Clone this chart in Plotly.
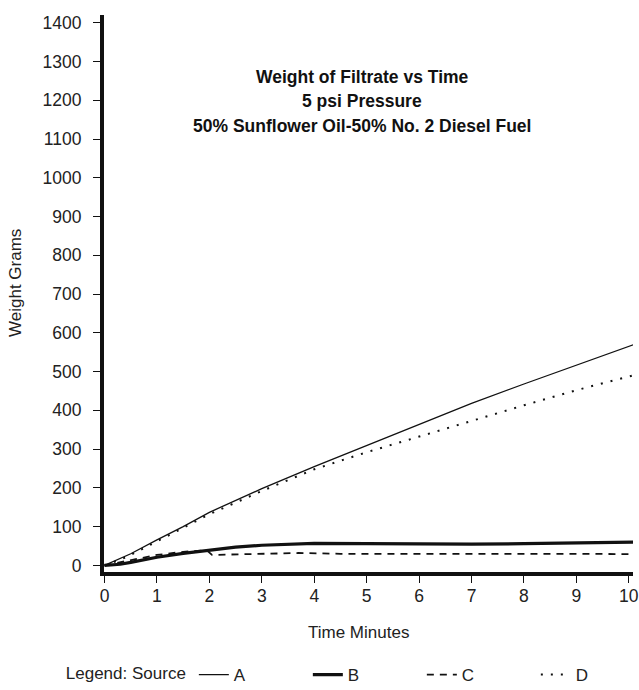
import plotly.graph_objects as go

# ---- data ----
time_A = [0, 0.25, 0.5, 1, 1.5, 2, 3, 4, 5, 6, 7, 8, 9, 10, 10.1]
weight_A = [0, 14, 30, 66, 100, 137, 198, 255, 310, 365, 418, 468, 516, 564, 570]

time_B = [0, 0.3, 0.5, 1, 1.5, 2, 2.5, 3, 3.5, 4, 5, 6, 7, 8, 9, 10, 10.1]
weight_B = [0, 3, 8, 21, 31, 40, 47, 52, 55, 57, 56, 55, 55, 56, 57, 58, 60]

time_C = [0, 0.3, 0.5, 1, 1.5, 1.95, 2.05, 3, 3.7, 4.5, 5, 6, 7, 8, 9, 10, 10.1]
weight_C = [0, 8, 14, 27, 35, 39, 27, 29, 32, 30, 30, 30, 31, 30, 30, 29, 28]

time_D = [0, 0.25, 0.5, 1, 1.5, 2, 3, 4, 5, 6, 7, 8, 9, 10, 10.1]
weight_D = [0, 12, 27, 62, 97, 132, 192, 248, 292, 333, 373, 413, 452, 487, 491]

x_ticks = list(range(0, 11))
y_ticks = list(range(0, 1500, 100))

title_lines = ["Weight of Filtrate vs Time", "5 psi Pressure",
               "50% Sunflower Oil-50% No. 2 Diesel Fuel"]

FONT = "Liberation Sans, Arial, Helvetica, sans-serif"
INK = "#111111"
TXT = "#222222"

fig = go.Figure()
fig.add_trace(go.Scatter(x=time_A, y=weight_A, name="A", mode="lines",
                         line=dict(color=INK, width=1.3)))
fig.add_trace(go.Scatter(x=time_B, y=weight_B, name="B", mode="lines",
                         line=dict(color=INK, width=3.2)))
fig.add_trace(go.Scatter(x=time_C, y=weight_C, name="C", mode="lines",
                         line=dict(color=INK, width=1.8, dash="7px,6px")))
fig.add_trace(go.Scatter(x=time_D, y=weight_D, name="D", mode="lines",
                         line=dict(color=INK, width=2, dash="2px,8px")))

W, H = 639, 690
L, R, T, B = 104, 6, 15, 118

fig.update_layout(
    width=W, height=H,
    margin=dict(l=L, r=R, t=T, b=B, autoexpand=False),
    paper_bgcolor="white", plot_bgcolor="white",
    font=dict(family=FONT, size=17, color=TXT),
    showlegend=True,
    legend=dict(orientation="h", x=-0.076, xanchor="left",
                y=-0.185, yanchor="middle",
                title=dict(text="Legend: Source", font=dict(size=17)),
                font=dict(size=17), entrywidth=69,
                bgcolor="rgba(0,0,0,0)"),
    xaxis=dict(range=[-0.01, 10.08], tickvals=x_ticks,
               ticks="outside", ticklen=7, tickwidth=1.2, tickcolor=INK,
               showline=True, linewidth=3.5, linecolor=INK,
               showgrid=False, zeroline=False, automargin=False,
               tickfont=dict(size=17.5, color=TXT),
               ticklabelstandoff=-2),
    yaxis=dict(range=[-17, 1420], tickvals=y_ticks,
               ticks="outside", ticklen=7, tickwidth=1.2, tickcolor=INK,
               showline=True, linewidth=4, linecolor=INK,
               showgrid=False, zeroline=False, automargin=False,
               tickfont=dict(size=17.5, color=TXT),
               ticklabelstandoff=8),
)

plot_w = W - L - R
plot_h = H - T - B

def px_x(p):
    return (p - L) / plot_w

def px_y(p):
    return (H - B - p) / plot_h

for txt, yp in zip(title_lines, [77, 101, 126]):
    fig.add_annotation(text="<b>%s</b>" % txt, x=px_x(362), y=px_y(yp),
                       xref="paper", yref="paper", showarrow=False,
                       xanchor="center", yanchor="middle",
                       font=dict(size=17.5, color=INK))

fig.add_annotation(text="Weight Grams", x=px_x(15), y=px_y(283),
                   xref="paper", yref="paper", showarrow=False,
                   textangle=-90, xanchor="center", yanchor="middle",
                   font=dict(size=17, color=TXT))
fig.add_annotation(text="Time Minutes", x=px_x(358), y=px_y(632),
                   xref="paper", yref="paper", showarrow=False,
                   xanchor="center", yanchor="middle",
                   font=dict(size=17, color=TXT))

# remove the browser's default 8px body margin so the figure fills the window
fig.write_html("out.html",
               config={"displayModeBar": False},
               post_script="document.body.style.margin='0';"
                           "document.body.style.overflow='hidden';")
